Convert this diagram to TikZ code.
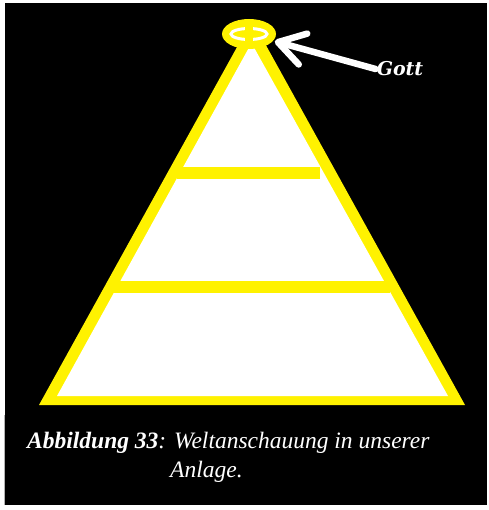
\documentclass[tikz,border=0pt]{standalone}
\usepackage{fontspec}
\setmainfont{Liberation Serif}
\newfontfamily\capfont{Liberation Serif}[ItalicFont={Liberation Serif Italic}, BoldItalicFont={Liberation Serif Bold Italic}]
\newfontfamily\gottfont{DejaVu Serif}
\usetikzlibrary{shapes.geometric,arrows.meta}

\begin{document}
\begin{tikzpicture}[x=1pt, y=-1pt,
    bar/.style={fill=yellow, draw=none},
    pointer/.style={draw=white, line width=6.5pt, line cap=round,
        -{Straight Barb[length=26pt, width=32pt, round]}},
    caption/.style={text=white, font=\capfont\fontsize{23.5}{29}\selectfont\itshape, inner sep=0pt, anchor=base west}]
    % Hintergrund
    \fill[white] (0,0) rectangle (488,510);
    \useasboundingbox (0,0) rectangle (488,510);
    \fill[black] (5,3) rectangle (487,415);
    \fill[black] (5,415) rectangle (487,505);
    \draw[gray!60, line width=1pt] (4.5,415) -- (4.5,505);

    % Pyramide
    \fill[yellow] (252,20) -- (465,405) -- (39,405) -- cycle;
    \fill[white] (251.5,43) -- (448,396) -- (57,396) -- cycle;
    \fill[bar] (177,167) rectangle (320,179);
    \fill[bar] (112,281) rectangle (390,293);

    % Heiligenschein
    \node[ellipse, fill=yellow, minimum width=54pt, minimum height=30pt, inner sep=0pt] (halo) at (249,34) {};
    \draw[white, line width=3pt] (halo.center) ellipse [x radius=18pt, y radius=5.5pt];
    \fill[yellow] (245,25) rectangle (253,44);

    % Beschriftung
    \node[text=white, inner sep=1pt, font=\gottfont\fontsize{19}{19}\selectfont\bfseries\itshape] (gott) at (400,69) {Gott};
    \draw[pointer] (gott.west) -- ([xshift=3pt, yshift=1pt]halo.-20);

    \node[caption] (cap1) at (27,448) {\textbf{Abbildung 33}: Weltanschauung in unserer};
    \node[caption] (cap2) at (170,477) {Anlage.};
\end{tikzpicture}
\end{document}
